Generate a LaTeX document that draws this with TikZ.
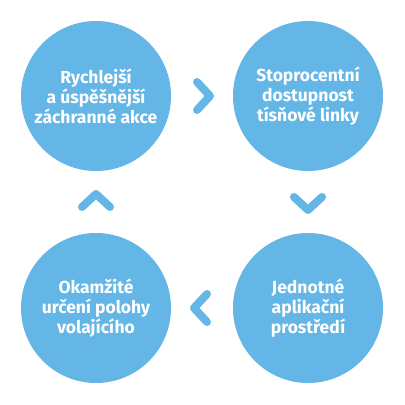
\documentclass[tikz,border=0pt]{standalone}
\usepackage{fontspec}
\setmainfont{Fira Sans}
\usetikzlibrary{calc}
\definecolor{skyblue}{HTML}{63B6E6}
\tikzset{
	bubble/.style={circle,fill=skyblue,minimum size=150pt,inner sep=0pt,text=white,
		align=center,font=\bfseries\fontsize{17.5}{20}\selectfont},
	chevron/.style={draw=skyblue,line width=8pt,line cap=round,line join=round}
}
\begin{document}
\begin{tikzpicture}[x=1pt,y=-1pt]
	\useasboundingbox (0,0) rectangle (405,405);
	\node[bubble] (a) at (96,96) {Rychlejší\\a úspěšnější\\záchranné akce};
	\node[bubble] (b) at (308,96) {Stoprocentní\\dostupnost\\tísňové linky};
	\node[bubble] (c) at (308,308) {Jednotné\\aplikační\\prostředí};
	\node[bubble] (d) at (96,308) {Okamžité\\určení polohy\\volajícího};
	% chevrons between bubbles
	\coordinate (ab) at ($(a)!0.5!(b)+(8,0)$);
	\draw[chevron] (ab) ++(-13,-14) -- (ab) -- ++(-13,14);
	\coordinate (bc) at ($(b)!0.5!(c)+(0,8)$);
	\draw[chevron] (bc) ++(-14,-13) -- (bc) -- ++(14,-13);
	\coordinate (cd) at ($(c)!0.5!(d)+(-8,0)$);
	\draw[chevron] (cd) ++(13,-14) -- (cd) -- ++(13,14);
	\coordinate (da) at ($(d)!0.5!(a)+(0,-8)$);
	\draw[chevron] (da) ++(-14,13) -- (da) -- ++(14,13);
\end{tikzpicture}
\end{document}
